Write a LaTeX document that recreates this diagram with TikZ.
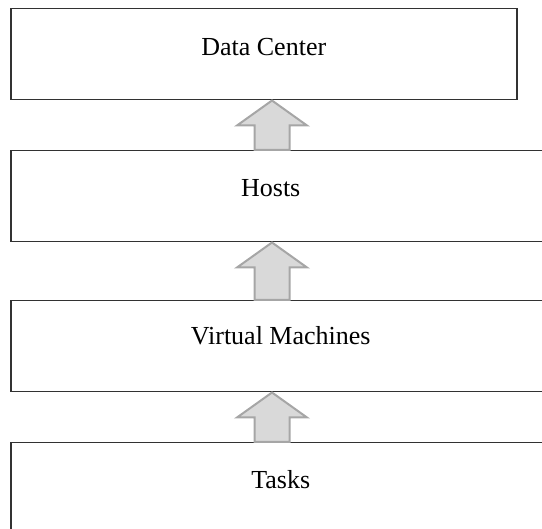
\documentclass[tikz,border=0pt]{standalone}
\usepackage{fontspec}
\setmainfont{Liberation Serif}
\usetikzlibrary{positioning,calc}
\definecolor{boxline}{RGB}{50,50,50}
\definecolor{arrline}{RGB}{166,166,166}
\definecolor{arrfill}{RGB}{217,217,217}
\tikzstyle{layer} = [draw=boxline, line width=0.75pt, rectangle, anchor=north west, inner sep=0pt]
\tikzstyle{layertext} = [font=\fontsize{13}{15}\selectfont, inner sep=0pt]
\tikzstyle{uparrow} = [draw=arrline, fill=arrfill, line width=1pt, line join=miter]

\begin{document}
\begin{tikzpicture}[x=0.5pt, y=-0.5pt]
\useasboundingbox (0,0) rectangle (542,529);

% Layers, top to bottom
\node[layer, minimum width=253pt, minimum height=45.5pt] (dc) at (10,8) {};
\node[layer, minimum width=270pt, minimum height=45.5pt] (hosts) at (10,150) {};
\node[layer, minimum width=270pt, minimum height=45.5pt] (vm) at (10,300) {};
\node[layer, minimum width=270pt, minimum height=50pt] (tasks) at (10,442) {};

% Labels
\node[layertext] (dc-t) at ([yshift=-19.5pt]dc.north) {Data Center};
\node[layertext] (hosts-t) at ([xshift=-5pt, yshift=-19pt]hosts.north) {Hosts};
\node[layertext] (vm-t) at ([yshift=-18pt]vm.north) {Virtual Machines};
\node[layertext] (tasks-t) at ([yshift=-19pt]tasks.north) {Tasks};

% Block arrows between layers
\coordinate (ax) at (272,0);
\foreach \up/\lo in {dc/hosts, hosts/vm, vm/tasks}
  \draw[uparrow] ($(ax |- \lo.north)+(-17.5,0)$) -- ($(ax |- \up.south)+(-17.5,25)$)
    -- ($(ax |- \up.south)+(-35,25)$) -- (ax |- \up.south)
    -- ($(ax |- \up.south)+(35,25)$) -- ($(ax |- \up.south)+(17.5,25)$)
    -- ($(ax |- \lo.north)+(17.5,0)$) -- cycle;
\end{tikzpicture}
\end{document}
